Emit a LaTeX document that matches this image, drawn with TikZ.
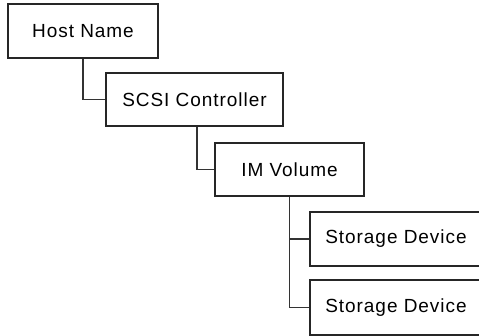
\documentclass[tikz,border=0pt]{standalone}
\usepackage{fontspec}
\setmainfont{Liberation Sans}[LetterSpace=5]
\begin{document}
\begin{tikzpicture}[x=1pt,y=1pt,
  box/.style={draw=black!85,line width=1.6pt,fill=white,inner sep=0pt,font=\fontsize{19}{22}\selectfont},
  conn/.style={draw=black!80,line width=1.5pt}]
\clip (0,0) rectangle (479,336);
\useasboundingbox (0,0) rectangle (479,336);
\node[box,minimum width=150,minimum height=54] (host) at (83,305) {Host Name};
\node[box,minimum width=177,minimum height=53] (scsi) at (194.5,236.5) {SCSI Controller};
\node[box,minimum width=149,minimum height=53] (im) at (289.5,166.5) {IM Volume};
\node[box,minimum width=172,minimum height=54] (sd1) at (396,97) {Storage Device};
\node[box,minimum width=172,minimum height=55] (sd2) at (396,28.5) {Storage Device};
\draw[conn] (host.south) |- (scsi.west);
\draw[conn] ([xshift=2.5pt]scsi.south) |- (im.west);
\draw[conn] (im.south) |- (sd1.west);
\draw[conn] (im.south) |- (sd2.west);
\end{tikzpicture}
\end{document}
